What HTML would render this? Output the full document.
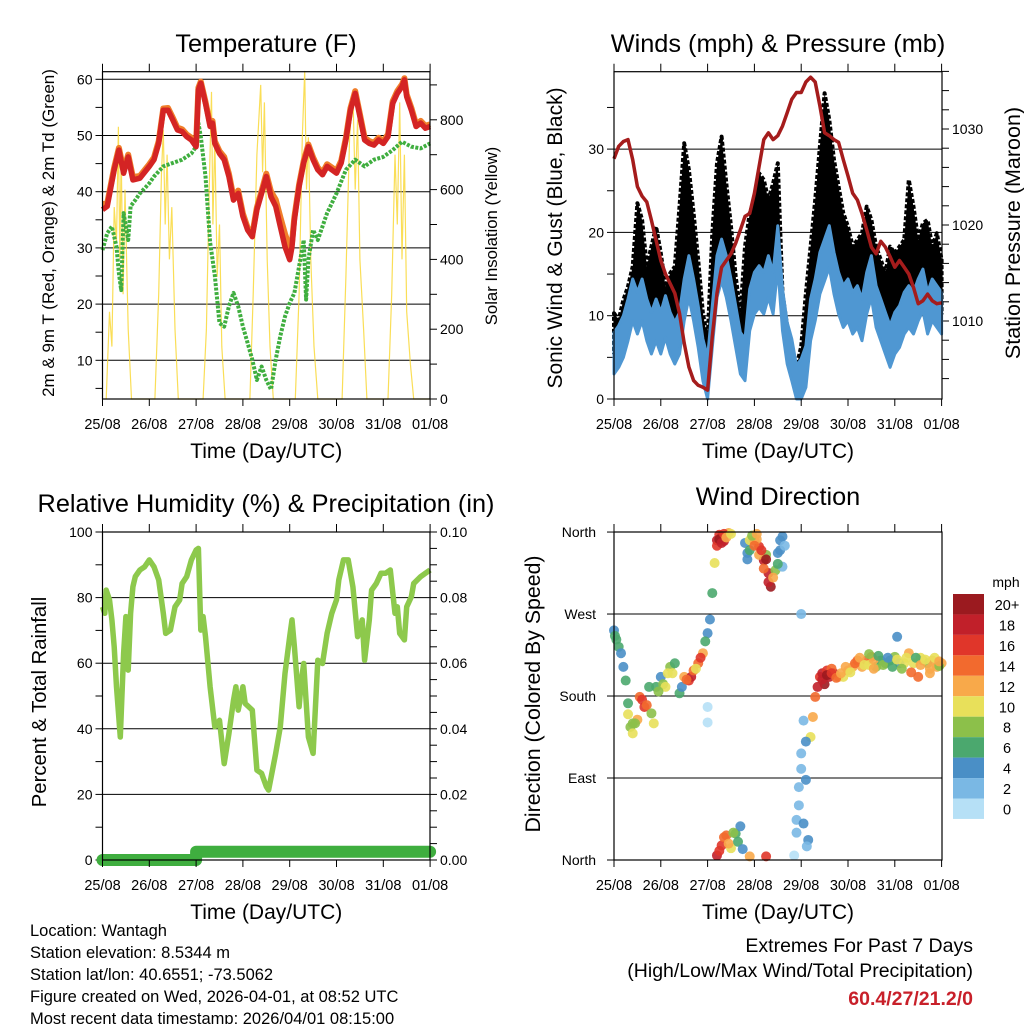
<!DOCTYPE html>
<html><head><meta charset="utf-8">
<style>
body{margin:0;background:#fff;}
svg{display:block;font-family:"Liberation Sans",Arial,sans-serif;}
</style></head>
<body>
<svg id="c" width="1024" height="1024" viewBox="0 0 1024 1024" xmlns="http://www.w3.org/2000/svg">
<g id="layer"></g>
</svg>
<script>
// ---------- DATA ----------
const tDays = [0,0.1,0.25,0.35,0.45,0.55,0.65,0.8,1.0,1.1,1.2,1.3,1.4,1.5,1.6,1.7,1.8,1.9,2.0,2.05,2.1,2.2,2.3,2.35,2.4,2.5,2.6,2.7,2.8,2.9,3.0,3.1,3.2,3.3,3.4,3.5,3.6,3.7,3.8,3.9,4.0,4.05,4.1,4.2,4.3,4.4,4.5,4.6,4.7,4.8,4.9,5.0,5.1,5.2,5.3,5.4,5.5,5.6,5.7,5.8,5.9,6.0,6.1,6.2,6.3,6.4,6.45,6.5,6.6,6.7,6.8,6.9,7.0];
const tempRed = [36.8,37.4,43.9,47.4,43.3,46.2,42.1,42.4,44.5,45.7,48.6,54.5,54.5,52.8,51,50.7,49.8,49.2,48,58.1,59.3,55.7,51.6,52.2,48.6,46.8,45.7,42.7,38.5,39.7,35.6,33.2,32,36.8,39.7,42.7,39.1,37.4,33.8,30.2,27.9,30.2,35,40.9,45.1,48,45.7,43.9,43,44.5,43.9,43.3,45.1,49.2,54.5,57.5,53.4,49.2,48.6,48.3,49.2,48.6,49.8,55.7,57.5,58.7,59.9,56.9,54.5,51.6,52.2,51.3,51.6];
const tempOrange = [37.8,37.9,44.3,47.8,43.8,46.6,42.6,42.8,44.9,46.1,49.0,54.8,54.9,53.2,51.4,51.1,50.2,49.6,48.4,58.5,59.6,56.0,52.0,52.6,49.0,47.2,46.2,43.2,39.0,40.2,36.1,33.6,32.4,37.2,40.1,43.2,40.0,38.6,35.5,32.5,30.0,31.0,35.5,41.3,45.5,48.4,46.1,44.3,43.4,44.9,44.3,43.7,45.5,49.6,54.9,57.9,53.8,49.6,49.0,48.7,49.6,49.0,50.2,56.1,57.9,59.1,60.2,57.3,54.9,52.0,52.6,51.7,52.0];
const tdDays = [0,0.1,0.2,0.3,0.35,0.4,0.45,0.5,0.55,0.6,0.7,0.8,1.0,1.1,1.3,1.5,1.7,1.9,2.0,2.05,2.1,2.2,2.3,2.4,2.5,2.6,2.7,2.8,2.9,3.0,3.1,3.2,3.3,3.4,3.5,3.6,3.7,3.8,3.9,4.0,4.1,4.2,4.3,4.35,4.4,4.5,4.6,4.8,5.0,5.2,5.4,5.6,5.8,6.0,6.2,6.4,6.6,6.8,7.0];
const dewGreen = [29.6,32.6,33.8,30.2,25.5,22.5,36.2,33.8,31.4,37.4,38.5,39.7,41.5,42.7,44.5,45.1,45.7,46.8,48,52.2,49.8,42.7,31,25.1,16.6,16,19.6,22,19.6,16,13.1,10.1,6.5,8.9,6.5,4.8,10.1,14.3,17.8,20.2,22,26.7,31.4,20.8,27.9,33.2,31.4,36.2,39.7,43.9,45.7,44.5,45.7,46.2,47.4,48.9,48,47.7,48.6];
const solarDays = [0.08,0.15,0.2,0.25,0.3,0.34,0.37,0.4,0.44,0.48,0.55,0.62, 1.12,1.2,1.26,1.3,1.34,1.38,1.43,1.48,1.55,1.62, 2.15,2.22,2.28,2.33,2.36,2.4,2.45,2.5,2.55,2.62, 3.15,3.22,3.3,3.38,3.42,3.46,3.52,3.58,3.65, 4.12,4.2,4.27,4.32,4.36,4.4,4.45,4.52,4.6, 5.12,5.2,5.28,5.35,5.4,5.45,5.5,5.58,5.65, 6.1,6.18,6.25,6.3,6.35,6.4,6.45,6.5,6.58,6.65,7.0];
const solarVals = [0,250,150,550,450,780,400,700,300,600,200,0, 0,300,650,770,500,700,400,550,200,0, 0,200,600,880,500,750,350,500,150,0, 0,300,700,900,650,850,400,150,0, 0,300,750,940,600,750,400,150,0, 0,350,750,880,600,800,400,200,0, 0,300,700,500,850,400,700,250,100,0,0];

const wDays = [0,0.1,0.2,0.3,0.4,0.5,0.6,0.7,0.8,0.9,1.0,1.1,1.2,1.3,1.4,1.5,1.6,1.7,1.8,1.9,2.0,2.1,2.2,2.3,2.4,2.5,2.6,2.7,2.8,2.9,3.0,3.1,3.2,3.3,3.4,3.5,3.6,3.7,3.8,3.9,4.0,4.1,4.2,4.3,4.4,4.5,4.6,4.7,4.8,4.9,5.0,5.1,5.2,5.3,5.4,5.5,5.6,5.7,5.8,5.9,6.0,6.1,6.2,6.3,6.4,6.5,6.6,6.7,6.8,6.9,7.0];
const windBlue = [5.5,6.3,7.5,9.5,11.9,10.3,11.9,9.5,7.9,9.5,7.9,9.9,7.9,6.7,7.9,11.9,14.7,11.9,8.7,4.7,2.5,8.7,14.7,16.7,14.7,11.9,8.7,5.5,4.7,10.7,12.7,13.5,12.7,14.7,12.7,18.3,10.7,6.7,4.7,1.5,2.3,3.9,9.5,11.9,15.1,16.7,18.3,15.1,12.7,11.1,11.9,10.3,11.1,9.5,12.7,14.7,11.1,9.5,7.9,6.3,7.9,8.7,10.3,11.1,10.3,11.9,13.1,10.3,11.9,11.1,10.3];
const windGust = [10.3,9.5,11.9,13.5,15.9,23.5,21.5,15.9,18.3,20.7,17.5,13.5,15.1,15.9,23.1,30.7,27.5,22.3,16.7,10.3,7.1,19.9,28.3,31.5,25.9,20.7,14.7,10.3,18.3,22.3,23.9,27.1,26.3,23.9,25.9,28.3,12.7,8.7,5.5,3.9,6.3,12.7,18.3,23.9,30.3,36.7,33.5,28.7,25.5,22.3,20.7,18.3,19.1,19.9,23.1,21.5,18.3,16.7,15.1,18.3,17.5,18.3,19.1,26.3,23.1,19.1,21.1,21.5,18.3,19.9,16.7];
const pressure = [1026.9,1028.2,1028.7,1028.9,1026.8,1024,1023,1022.4,1020.5,1018.4,1016.3,1014.9,1013.9,1012.9,1010.8,1007.7,1005.2,1003.8,1003.3,1003.1,1002.8,1008.4,1012.9,1015.6,1016.3,1017,1018.1,1019.5,1020.9,1021.2,1023.3,1026.1,1028.9,1029.6,1028.9,1029.3,1030.3,1031.7,1033.1,1033.8,1033.8,1034.9,1035.4,1034.9,1032.4,1029.6,1029.3,1028.9,1028.6,1026.8,1025.1,1023.3,1022.6,1021.2,1019.5,1017.7,1017,1018.3,1017.7,1016.7,1015.6,1016.3,1015.6,1014.9,1013.5,1011.8,1012.1,1012.8,1012.1,1011.8,1011.9];

const rhDays = [0,0.05,0.08,0.15,0.2,0.25,0.3,0.38,0.45,0.5,0.55,0.6,0.65,0.7,0.8,0.9,1.0,1.1,1.2,1.3,1.35,1.45,1.55,1.65,1.7,1.8,1.9,2.0,2.05,2.1,2.15,2.2,2.3,2.4,2.5,2.6,2.7,2.8,2.85,2.9,3.0,3.05,3.2,3.3,3.4,3.5,3.55,3.7,3.8,3.9,4.0,4.05,4.1,4.2,4.25,4.3,4.4,4.5,4.6,4.7,4.8,4.9,5.0,5.05,5.15,5.25,5.35,5.45,5.55,5.6,5.7,5.75,5.85,5.95,6.05,6.15,6.25,6.3,6.35,6.45,6.5,6.6,6.65,6.8,6.9,7.0];
const rhVals = [77.2,75.2,82.3,79.3,73.2,65.0,52.8,37.5,62.9,74.2,57.9,75.2,83.3,86.4,88.4,89.4,91.5,89.4,85.4,75.2,69.1,70.1,77.2,79.3,84.3,86.4,91.5,94.5,95.0,70.1,74.2,68.1,52.8,40.6,42.6,29.4,38.5,48.7,52.8,45.7,52.8,47.7,45.7,27.4,26.4,22.4,21.3,32.5,40.6,56.9,68.1,73.2,65.0,46.7,54.8,59.9,37.5,32.5,60.9,59.9,69.1,75.2,79.3,85.4,91.5,91.5,83.3,68.1,73.2,60.9,73.2,82.3,84.3,87.4,87.4,88.4,75.2,77.2,69.1,67.1,77.2,80.3,84.3,86.4,87.4,88.4];
const precipDays = [0,2.0,2.0,7.0];
const precipVals = [0,0,0.0025,0.0025];

const dirDays = [0,0.05,0.1,0.15,0.2,0.25,0.3,0.35,0.4,0.5,0.55,0.6,0.65,0.75,0.8,0.85,0.9,1.0,1.05,1.1,1.2,1.3,1.4,1.5,1.6,1.65,1.8,1.9,2.0,2.0,2.0,2.05,2.1,2.15,2.2,2.3,2.45,2.8,2.85,2.9,3.0,3.1,3.2,3.3,3.35,3.45,3.5,3.55,3.6,2.2,2.3,2.4,2.5,2.6,2.7,2.9,3.25,3.85,3.9,3.95,4.0,4.0,4.05,4.1,4.15,4.2,4.25,4.3,4.4,4.5,4.6,4.7,4.8,4.9,5.0,5.1,5.2,5.3,5.4,5.5,5.6,5.7,5.8,5.9,6.0,6.05,6.1,6.2,6.3,6.4,6.5,6.6,6.7,6.8,6.9,7.0,0.02,0.4,1.15,1.7,2.25,2.35,3.05,3.25,4.45,4.55,4.65,5.45,5.55,6.55,6.75,6.95,
 2.2,2.25,2.3,2.35,2.4,2.5,2.85,2.9,2.95,3.0,3.05,3.1,3.15,3.2,3.25,3.3,3.4,3.5,3.55,3.6,3.65,2.25,2.35,2.45,2.55,2.65,2.75,0.3,0.45,0.7,0.95,1.25,1.45,1.55,1.75,1.85,1.95,4.35,4.45,4.55,4.65,4.75,4.85,4.95,5.05,5.15,5.25,5.35,5.45,5.55,5.65,5.75,5.85,5.95,6.05,6.15,6.25,6.35,6.45,6.55,6.65,6.75,6.85,6.95,3.9,3.95,4.0,4.05,4.1,4.12];
const dirDeg = [252,242,234,227,212,197,172,146,139,154,179,176,168,190,161,150,190,201,193,190,212,216,183,201,197,201,216,227,249,168,151,264,293,326,351,355,359,348,337,351,351,344,329,315,300,318,337,351,322,5,16,27,13,29,37,4,4,5,44,80,117,270,153,88,22,135,157,179,201,193,201,205,201,201,208,212,219,212,219,223,212,219,216,219,223,245,216,216,227,216,201,219,216,219,212,216,246,150,205,208,357,350,352,335,205,208,210,214,220,222,205,213,
 345,352,348,358,354,358,330,340,356,345,358,335,340,320,330,305,310,325,340,355,345,10,25,18,30,20,12,160,150,170,185,205,190,198,210,222,240,190,198,203,205,200,205,212,206,216,222,214,226,210,224,214,222,212,220,210,222,206,222,214,220,210,222,218,30,60,100,40,130,15];
const dirSpd = [4,6,6,5,4,6,6,8,10,12,14,16,16,6,8,10,6,4,8,10,8,6,6,12,16,18,14,12,4,1,1,4,6,10,18,20,12,4,4,10,12,16,18,18,20,8,4,4,2,18,16,14,10,6,4,12,16,0,2,2,2,2,2,4,4,10,12,14,16,20,18,18,12,10,12,12,14,12,14,14,8,6,6,6,8,4,4,10,12,10,14,12,8,12,12,12,6,8,10,14,16,18,12,8,18,16,14,10,12,10,12,8,
 16,20,18,16,12,10,4,6,8,14,12,12,16,14,20,18,12,6,4,4,2,16,14,12,8,6,4,10,8,14,8,10,4,14,10,16,6,18,18,20,16,14,12,12,10,14,12,10,8,12,6,8,4,6,10,8,10,14,6,12,10,12,10,12,2,2,2,4,4,2];

const cbLabels = ["20+","18","16","14","12","10","8","6","4","2","0"];
const cbColors = ["#9b1a1f","#c1202a","#e0362a","#f26a2e","#f8a94a","#e8e05a","#8cc04a","#4ba86e","#4a8fc6","#7ab8e4","#b6e0f6"];
const dayLabels = ["25/08","26/08","27/08","28/08","29/08","30/08","31/08","01/08"];

// ---------- HELPERS ----------
const NS="http://www.w3.org/2000/svg";
const root=document.getElementById('layer');
function el(tag,attrs,parent,txt){const e=document.createElementNS(NS,tag);for(const k in attrs)e.setAttribute(k,attrs[k]);if(txt!==undefined)e.textContent=txt;(parent||root).appendChild(e);return e;}
function pathD(xs,ys){return xs.map((x,i)=>(i?'L':'M')+x.toFixed(1)+' '+ys[i].toFixed(1)).join(' ');}
const DX=46.8;
const x1=d=>102.5+d*DX, x2=d=>614+d*DX;
const yT=v=>360.3-(v-10)*5.62, yS=s=>399-s*0.349;
const yW=m=>399-m*8.33, yP=p=>129-(p-1030)*9.6;
const yR=v=>860-v*3.28, yPr=p=>860-p*3280;
const yD=g=>860-g*0.911;

function frame(g,L,T,R,B,xf,name){
  const r=el('rect',{x:L,y:T,width:R-L,height:B-T,fill:'none',stroke:'#000','stroke-width':1.2},g);
  
  
  dayLabels.forEach((lab,i)=>{
    const x=xf(i);
    el('line',{x1:x,y1:B,x2:x,y2:B+7,stroke:'#000','stroke-width':1},g);
    el('line',{x1:x,y1:T,x2:x,y2:T-8,stroke:'#000','stroke-width':1},g);
    const t=el('text',{x:x,y:B+30,'font-size':14.5,'text-anchor':'middle'},g,lab);
    
    
  });
  const xt=el('text',{x:(L+R)/2,y:B+59,'font-size':21,'text-anchor':'middle'},g,'Time (Day/UTC)');
  
  
}
function grid(g,L,R,ys){ys.forEach(y=>el('line',{x1:L,y1:y,x2:R,y2:y,stroke:'#000','stroke-width':1},g));}
function lticks(g,L,ys,labs,big){ys.forEach((y,i)=>{el('line',{x1:L-7,y1:y,x2:L,y2:y,stroke:'#000'},g);if(labs&&labs[i]!==undefined&&labs[i]!==''){const t=el('text',{x:L-10,y:y+5,'font-size':big||14,'text-anchor':'end'},g,labs[i]);}});}
function rticks(g,R,ys,labs,big){ys.forEach((y,i)=>{el('line',{x1:R,y1:y,x2:R+7,y2:y,stroke:'#000'},g);if(labs&&labs[i]){const t=el('text',{x:R+10,y:y+5,'font-size':big||14,'text-anchor':'start'},g,labs[i]);}});}
function title(g,x,y,s,n){const t=el('text',{x:x,y:y,'font-size':25.3,'text-anchor':'middle'},g,s);}
function vtitle(g,x,y,s,fs,n){const t=el('text',{x:0,y:0,'font-size':fs,'text-anchor':'middle',transform:`translate(${x},${y}) rotate(-90)`},g,s);}

// ---------- PANEL 1: TEMPERATURE ----------
(function(){
  const g=el('g',{});
  
  
  title(g,266,52,'Temperature (F)','temperature-title');
  const ysT=[10,20,30,40,50,60].map(yT);
  grid(g,102.5,430,ysT);
  const minor=[]; for(let v=5;v<=60;v+=5) minor.push(yT(v));
  lticks(g,102.5,minor,[5,10,15,20,25,30,35,40,45,50,55,60].map(v=>v%10===0?String(v):''));
  const sy=[];const sl=[]; for(let s=0;s<=900;s+=100){sy.push(yS(s));sl.push(s%200===0?String(s):'');}
  rticks(g,430,sy,sl);
  const sol=el('path',{d:pathD(solarDays.map(x1),solarVals.map(yS)),fill:'none',stroke:'#f9d83a','stroke-width':1.2,'stroke-opacity':0.85},g);
  
  
  const dp=el('path',{d:pathD(tdDays.map(x1),dewGreen.map(yT)),fill:'none',stroke:'#3fae3f','stroke-width':4,'stroke-dasharray':'3 1.5','stroke-linejoin':'round'},g);
  
  
  const o=el('path',{d:pathD(tDays.map(x1),tempOrange.map(yT)),fill:'none',stroke:'#f07e2a','stroke-width':6,'stroke-linejoin':'round'},g);
  
  
  const r=el('path',{d:pathD(tDays.map(x1),tempRed.map(yT)),fill:'none',stroke:'#d42424','stroke-width':5.5,'stroke-linejoin':'round'},g);
  
  
  frame(g,102.5,71.7,430,399,x1,'temperature');
  vtitle(g,54,233,'2m & 9m T (Red, Orange) & 2m Td (Green)',17,'temperature-y-title');
  vtitle(g,497,236,'Solar Insolation (Yellow)',16.7,'solar-y-title');
})();

// ---------- PANEL 2: WINDS ----------
(function(){
  const g=el('g',{});
  
  
  title(g,778,52,'Winds (mph) & Pressure (mb)','winds-title');
  grid(g,614,942,[10,20,30].map(yW));
  const wy=[],wl=[];for(let m=0;m<=35;m+=5){wy.push(yW(m));wl.push(m%10===0?String(m):'');}
  lticks(g,614,wy,wl);
  const py=[],pl=[];for(let p=1004;p<=1036;p+=2){py.push(yP(p));pl.push(p%10===0?String(p):'');}
  rticks(g,942,py,pl);
  const gx=wDays.map(x2);
  const gd=pathD(gx,windGust.map(yW))+' '+pathD(gx.slice().reverse(),windBlue.slice().reverse().map(yW)).replace(/^M/,'L')+' Z';
  const gu=el('path',{d:gd,fill:'#000',stroke:'#000','stroke-width':4,'stroke-linejoin':'round','stroke-dasharray':'4 2'},g);
  
  
  const bd=pathD(gx,windBlue.map(v=>yW(v+2.5)))+' '+pathD(gx.slice().reverse(),windBlue.slice().reverse().map(v=>yW(Math.max(0,v-2.5)))).replace(/^M/,'L')+' Z';
  const bl=el('path',{d:bd,fill:'#4f97d2',stroke:'#4f97d2','stroke-width':3,'stroke-linejoin':'round'},g);
  
  
  const pr=el('path',{d:pathD(gx,pressure.map(yP)),fill:'none',stroke:'#a51c1c','stroke-width':3.5,'stroke-linejoin':'round'},g);
  
  
  frame(g,614,71.7,942,399,x2,'winds');
  vtitle(g,562,238,'Sonic Wind & Gust (Blue, Black)',21,'wind-y-title');
  vtitle(g,1020,233,'Station Pressure (Maroon)',21.5,'pressure-y-title');
})();

// ---------- PANEL 3: RH ----------
(function(){
  const g=el('g',{});
  
  
  title(g,266,512,'Relative Humidity (%) & Precipitation (in)','humidity-title');
  grid(g,102.5,430,[20,40,60,80].map(yR));
  const ry=[],rl=[];for(let v=0;v<=100;v+=10){ry.push(yR(v));rl.push(v%20===0?String(v):'');}
  lticks(g,102.5,ry,rl);
  const py=[],pl=[];for(let p=0;p<=0.1001;p+=0.005){py.push(yPr(p));pl.push(Math.round(p*1000)%20===0?p.toFixed(2):'');}
  rticks(g,430,py,pl);
  const rh=el('path',{d:pathD(rhDays.map(x1),rhVals.map(yR)),fill:'none',stroke:'#8dc94c','stroke-width':5.5,'stroke-linejoin':'round'},g);
  
  
  const pc=el('path',{d:pathD(precipDays.map(x1),precipVals.map(yPr)),fill:'none',stroke:'#3fae3f','stroke-width':12,'stroke-linecap':'round','stroke-linejoin':'round'},g);
  
  
  frame(g,102.5,532,430,860,x1,'humidity');
  vtitle(g,46,702,'Percent & Total Rainfall',20.3,'humidity-y-title');
})();

// ---------- PANEL 4: WIND DIRECTION ----------
(function(){
  const g=el('g',{});
  
  
  title(g,778,505,'Wind Direction','direction-title');
  grid(g,614,942,[90,180,270,360].map(yD));
  const dy=[0,90,180,270,360].map(yD);
  dy.forEach((y,i)=>{el('line',{x1:607,y1:y,x2:614,y2:y,stroke:'#000'},g);
    const t=el('text',{x:596,y:y+5,'font-size':14,'text-anchor':'end'},g,['North','East','South','West','North'][i]);
    
    });
  dirDays.forEach((d,i)=>{
    const bin=Math.max(0,Math.min(10,Math.floor(dirSpd[i]/2)));
    const c=el('circle',{cx:x2(d),cy:yD(dirDeg[i]),r:5,fill:cbColors[10-bin],'fill-opacity':0.9},g);
    
    
  });
  frame(g,614,532,942,860,x2,'direction');
  vtitle(g,540,694,'Direction (Colored By Speed)',21.3,'direction-y-title');
  const cb=el('g',{},g);
  
  
  el('text',{x:1006,y:587,'font-size':14,'text-anchor':'middle'},cb,'mph');
  cbColors.forEach((c,i)=>{
    const y=594+i*20.45;
    el('rect',{x:953,y:y,width:31,height:20.45,fill:c},cb);
    const t=el('text',{x:1007,y:y+16,'font-size':14.5,'text-anchor':'middle'},cb,cbLabels[i]);
    
    
  });
})();

// ---------- FOOTER ----------
(function(){
  const g=el('g',{'font-size':16.5});
  
  
  ["Location: Wantagh","Station elevation: 8.5344 m","Station lat/lon: 40.6551; -73.5062","Figure created on Wed, 2026-04-01, at 08:52 UTC","Most recent data timestamp: 2026/04/01 08:15:00"].forEach((s,i)=>el('text',{x:30,y:936+i*22},g,s));
  el('text',{x:973,y:952,'font-size':19.5,'text-anchor':'end'},g,'Extremes For Past 7 Days');
  el('text',{x:973,y:977,'font-size':19.5,'text-anchor':'end'},g,'(High/Low/Max Wind/Total Precipitation)');
  const ex=el('text',{x:973,y:1005,'font-size':19.5,'font-weight':'bold','text-anchor':'end',fill:'#c8202a'},g,'60.4/27/21.2/0');
  
  
})();
</script>
</body></html>
